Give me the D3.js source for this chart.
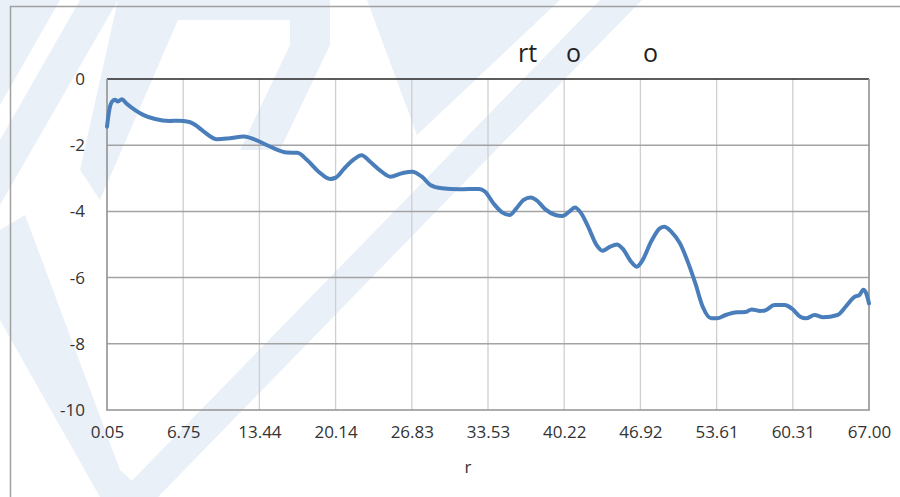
<!DOCTYPE html>
<html>
<head>
<meta charset="utf-8">
<script src="https://cdn.jsdelivr.net/npm/d3@7"></script>
<style>
body { margin: 0; background: #fff; }
svg { display: block; background: #fff; font-family: "Open Sans", sans-serif; }
</style>
</head>
<body>
<script>
// curve: r and value
var rValues = [0.05, 0.25, 0.50, 0.76, 1.01, 1.36, 1.76, 2.52, 3.27, 4.28, 5.54, 6.30, 7.30, 7.81,
  8.56, 9.72, 10.83, 12.09, 13.10, 14.36, 15.87, 16.78, 17.63, 18.64, 19.65, 20.15, 20.91, 21.66,
  22.42, 23.17, 24.18, 24.94, 25.94, 26.85, 27.71, 28.46, 29.47, 30.98, 32.75, 33.25, 34.01, 34.76,
  35.42, 36.02, 36.63, 37.28, 37.78, 38.54, 39.45, 40.05, 40.66, 41.16, 41.66, 42.32, 43.07, 43.58,
  44.23, 44.84, 45.34, 46.10, 46.60, 47.11, 47.86, 48.62, 49.02, 49.62, 50.38, 51.13, 51.74, 52.39,
  53.15, 53.65, 54.41, 55.42, 56.17, 56.68, 57.43, 57.94, 58.69, 59.60, 60.20, 60.96, 61.46, 62.22,
  62.97, 64.23, 64.99, 65.74, 66.15, 66.50, 66.75, 67.00];
var values = [-1.44, -0.94, -0.68, -0.63, -0.68, -0.61, -0.74, -0.94, -1.09, -1.21, -1.27, -1.26, -1.30, -1.39,
  -1.59, -1.82, -1.79, -1.74, -1.84, -2.04, -2.22, -2.23, -2.45, -2.80, -3.02, -2.98, -2.70, -2.45,
  -2.30, -2.50, -2.80, -2.95, -2.85, -2.80, -2.95, -3.20, -3.30, -3.33, -3.32, -3.40, -3.76, -4.03,
  -4.11, -3.91, -3.66, -3.58, -3.66, -3.93, -4.11, -4.14, -4.01, -3.88, -4.03, -4.46, -5.02, -5.19,
  -5.07, -5.00, -5.12, -5.52, -5.67, -5.47, -4.91, -4.51, -4.46, -4.61, -4.96, -5.57, -6.17, -6.88,
  -7.23, -7.23, -7.13, -7.05, -7.04, -6.96, -7.01, -6.98, -6.83, -6.83, -6.93, -7.18, -7.23, -7.13,
  -7.20, -7.13, -6.86, -6.58, -6.53, -6.37, -6.47, -6.78];

var xTickLabels = ["0.05", "6.75", "13.44", "20.14", "26.83", "33.53", "40.22", "46.92", "53.61", "60.31", "67.00"];
var yTicks = [0, -2, -4, -6, -8, -10];

var width = 900;
var height = 497;
var margin = {left: 107, right: 31, top: 79, bottom: 87};

var svg = d3.select('body').append('svg')
  .attr('width', width)
  .attr('height', height);

// pale background watermark (decoration only)
var wm = svg.append('g').attr('fill', '#e9f0f8');
var shapes = [
  [[0, 0], [60, 0], [0, 105]],
  [[80, 0], [118, 0], [0, 205], [0, 140]],
  [[118, 0], [330, 0], [330, 45], [280, 150], [240, 150], [290, 45], [290, 20], [178, 20], [100, 200], [80, 170]],
  [[0, 230], [25, 215], [120, 470], [150, 497], [100, 497], [0, 320]],
  [[367, 0], [560, 0], [417, 135]],
  [[600, 0], [642, 0], [158, 497], [116, 497]]
];
wm.selectAll('path').data(shapes).enter().append('path')
  .attr('d', function (d) { return d3.line()(d) + 'Z'; });

// outer chart border
svg.append('path')
  .attr('d', 'M10.5,' + height + 'V6.5H' + width)
  .attr('fill', 'none')
  .attr('stroke', '#a0a0a0')
  .attr('stroke-width', 1.5);

var x = d3.scaleLinear()
  .domain([rValues[0], rValues[rValues.length - 1]])
  .range([margin.left, width - margin.right]);

var y = d3.scaleLinear()
  .domain([-10, 0])
  .range([height - margin.bottom, margin.top]);

var xTickValues = xTickLabels.map(function (d, i) {
  return x.invert(margin.left + i * (width - margin.left - margin.right) / (xTickLabels.length - 1));
});

// vertical grid
svg.append('g')
  .selectAll('line').data(xTickValues.slice(1, -1)).enter().append('line')
  .attr('x1', function (d) { return x(d); })
  .attr('x2', function (d) { return x(d); })
  .attr('y1', y(0))
  .attr('y2', y(-10))
  .attr('stroke', '#cfcfcf')
  .attr('stroke-width', 1.3);

// horizontal grid
svg.append('g')
  .selectAll('line').data(yTicks.slice(1, -1)).enter().append('line')
  .attr('x1', x.range()[0])
  .attr('x2', x.range()[1])
  .attr('y1', function (d) { return y(d); })
  .attr('y2', function (d) { return y(d); })
  .attr('stroke', '#a3a3a3')
  .attr('stroke-width', 1.5);

// plot frame
svg.append('line')
  .attr('x1', x.range()[0]).attr('x2', x.range()[1])
  .attr('y1', y(0)).attr('y2', y(0))
  .attr('stroke', '#262626').attr('stroke-width', 1.6);
svg.append('path')
  .attr('d', 'M' + x.range()[0] + ',' + y(0) + 'V' + y(-10) + 'H' + x.range()[1] + 'V' + y(0))
  .attr('fill', 'none')
  .attr('stroke', '#929292')
  .attr('stroke-width', 1.6);

// axes (labels only)
var yAxis = svg.append('g')
  .attr('transform', 'translate(' + (margin.left - 19) + ',0)')
  .call(d3.axisLeft(y).tickValues(yTicks).tickSize(0).tickFormat(function (d) { return String(d); }))
  .attr('font-family', '"Open Sans", sans-serif')
  .attr('font-size', 17);
yAxis.select('.domain').remove();
yAxis.selectAll('text').attr('fill', '#333');

var xAxis = svg.append('g')
  .attr('transform', 'translate(0,' + (height - margin.bottom + 13) + ')')
  .call(d3.axisBottom(x).tickValues(xTickValues).tickSize(0)
    .tickFormat(function (d, i) { return xTickLabels[i]; }))
  .attr('font-family', '"Open Sans", sans-serif')
  .attr('font-size', 17);
xAxis.select('.domain').remove();
xAxis.selectAll('text').attr('fill', '#333');

// the line
var line = d3.line()
  .x(function (d, i) { return x(rValues[i]); })
  .y(function (d) { return y(d); })
  .curve(d3.curveMonotoneX);

svg.append('path')
  .datum(values)
  .attr('d', line)
  .attr('fill', 'none')
  .attr('stroke', '#4a7ebb')
  .attr('stroke-width', 4)
  .attr('stroke-linejoin', 'round')
  .attr('stroke-linecap', 'round');

// title and axis title
var title = svg.append('text')
  .attr('y', 62)
  .attr('font-size', 25)
  .attr('fill', '#222');
title.append('tspan').attr('x', 518).text('rt');
title.append('tspan').attr('x', 566).text('o');
title.append('tspan').attr('x', 643).text('o');

svg.append('text')
  .attr('x', 468)
  .attr('y', 473)
  .attr('text-anchor', 'middle')
  .attr('font-size', 17)
  .attr('fill', '#333')
  .text('r');
</script>
</body>
</html>
